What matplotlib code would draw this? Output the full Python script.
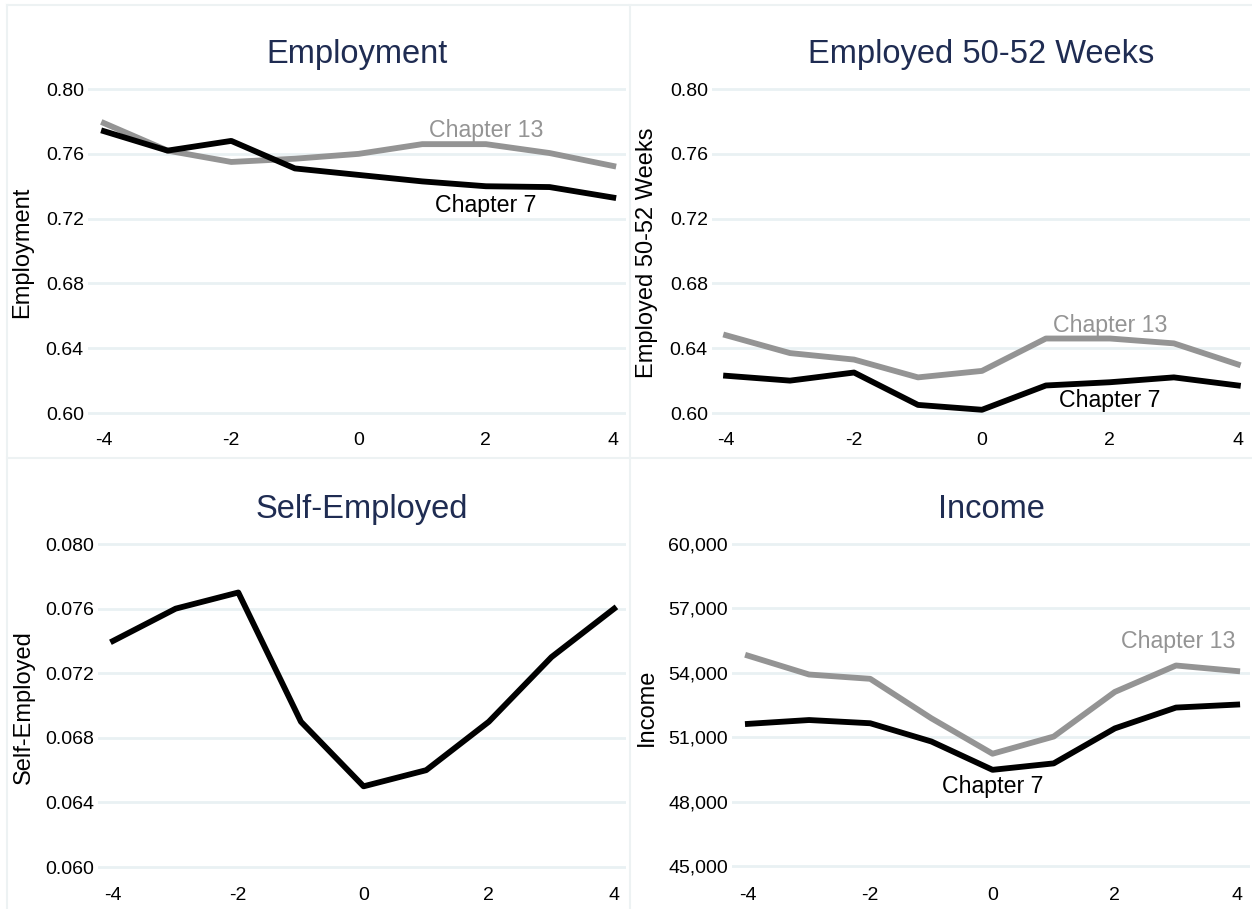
import matplotlib
matplotlib.use('Agg')
import matplotlib.pyplot as plt
from matplotlib.ticker import FuncFormatter
from matplotlib.lines import Line2D

plt.rcParams['font.family'] = ['Liberation Sans', 'DejaVu Sans']
plt.rcParams['axes.unicode_minus'] = False

years = [-4, -3, -2, -1, 0, 1, 2, 3, 4]
x_ticks = [-4, -2, 0, 2, 4]

# Employment
emp_ch7 = [0.774, 0.762, 0.768, 0.751, 0.747, 0.743, 0.740, 0.7395, 0.733]
emp_ch13 = [0.779, 0.762, 0.755, 0.757, 0.760, 0.766, 0.766, 0.7605, 0.7525]
emp_ticks = [0.60, 0.64, 0.68, 0.72, 0.76, 0.80]

# Employed 50-52 weeks
wk_ch7 = [0.623, 0.620, 0.625, 0.605, 0.602, 0.617, 0.619, 0.622, 0.617]
wk_ch13 = [0.648, 0.637, 0.633, 0.622, 0.626, 0.646, 0.646, 0.643, 0.630]
wk_ticks = [0.60, 0.64, 0.68, 0.72, 0.76, 0.80]

# Self-employed
self_emp = [0.074, 0.076, 0.077, 0.069, 0.065, 0.066, 0.069, 0.073, 0.076]
self_ticks = [0.060, 0.064, 0.068, 0.072, 0.076, 0.080]

# Income
inc_ch7 = [51620, 51800, 51650, 50800, 49480, 49780, 51410, 52380, 52520]
inc_ch13 = [54800, 53920, 53720, 51880, 50230, 51030, 53110, 54340, 54080]
inc_ticks = [45000, 48000, 51000, 54000, 57000, 60000]

W, H = 1252, 909
TITLE_COL = '#1f2c52'
GRID_COL = '#e9f1f3'
GRAY = '#949494'
LW = 4.2

fig = plt.figure(figsize=(W / 100, H / 100), dpi=100)
fig.patch.set_facecolor('white')


def px_axes(left, right, top, bottom):
    return fig.add_axes([left / W, 1 - bottom / H, (right - left) / W, (bottom - top) / H])


def style(ax, title, ylabel, yticks, fmt, xlim, ylim, lab_x):
    ax.set_xlim(*xlim)
    ax.set_ylim(*ylim)
    for s in ax.spines.values():
        s.set_visible(False)
    ax.set_xticks(x_ticks)
    ax.set_yticks(yticks)
    ax.yaxis.set_major_formatter(FuncFormatter(fmt))
    ax.tick_params(length=0, labelsize=14, colors='black')
    ax.tick_params(axis='x', pad=5)
    ax.tick_params(axis='y', pad=3)
    ax.grid(axis='y', color=GRID_COL, lw=2)
    ax.set_axisbelow(True)
    ax.set_title(title, fontsize=23.5, color=TITLE_COL, pad=12)
    ax.set_ylabel(ylabel, fontsize=17, va='center')
    ax.yaxis.set_label_coords(lab_x, 0.5)


# Top-left: Employment
ax1 = px_axes(88, 626, 80, 425)
ax1.plot(years, emp_ch13, color=GRAY, lw=LW)
ax1.plot(years, emp_ch7, color='black', lw=LW)
ax1.text(2, 0.7745, 'Chapter 13', color=GRAY, fontsize=16.7, ha='center', va='center')
ax1.text(2, 0.728, 'Chapter 7', color='black', fontsize=16.7, ha='center', va='center')
style(ax1, 'Employment', 'Employment', emp_ticks, lambda v, p: f'{v:.2f}',
      (-4.25, 4.2), (0.5926, 0.8056), (22 - 88) / 538)

# Top-right: Employed 50-52 Weeks
ax2 = px_axes(712, 1250, 80, 425)
ax2.plot(years, wk_ch13, color=GRAY, lw=LW)
ax2.plot(years, wk_ch7, color='black', lw=LW)
ax2.text(2, 0.654, 'Chapter 13', color=GRAY, fontsize=16.7, ha='center', va='center')
ax2.text(2, 0.608, 'Chapter 7', color='black', fontsize=16.7, ha='center', va='center')
style(ax2, 'Employed 50-52 Weeks', 'Employed 50-52 Weeks', wk_ticks, lambda v, p: f'{v:.2f}',
      (-4.22, 4.19), (0.5926, 0.8056), (647 - 712) / 538)

# Bottom-left: Self-Employed
ax3 = px_axes(98, 626, 535, 880)
ax3.plot(years, self_emp, color='black', lw=LW)
style(ax3, 'Self-Employed', 'Self-Employed', self_ticks, lambda v, p: f'{v:.3f}',
      (-4.24, 4.19), (0.0592, 0.08056), (24 - 98) / 528)

# Bottom-right: Income
ax4 = px_axes(732, 1250, 535, 880)
ax4.plot(years, inc_ch13, color=GRAY, lw=LW)
ax4.plot(years, inc_ch7, color='black', lw=LW)
ax4.text(3.04, 55480, 'Chapter 13', color=GRAY, fontsize=16.7, ha='center', va='center')
ax4.text(0.01, 48700, 'Chapter 7', color='black', fontsize=16.7, ha='center', va='center')
style(ax4, 'Income', 'Income', inc_ticks, lambda v, p: f'{int(v):,}',
      (-4.26, 4.21), (44348, 60419), (647 - 732) / 518)

# light panel borders
for (x0, y0, x1, y1) in [(7, 5, 7, 909), (7, 5, 1252, 5), (630, 5, 630, 909), (7, 458, 1252, 458)]:
    fig.add_artist(Line2D([x0 / W, x1 / W], [1 - y0 / H, 1 - y1 / H],
                          transform=fig.transFigure, color='#edf2f3', lw=1.5))

fig.savefig('out.png', dpi=100)
